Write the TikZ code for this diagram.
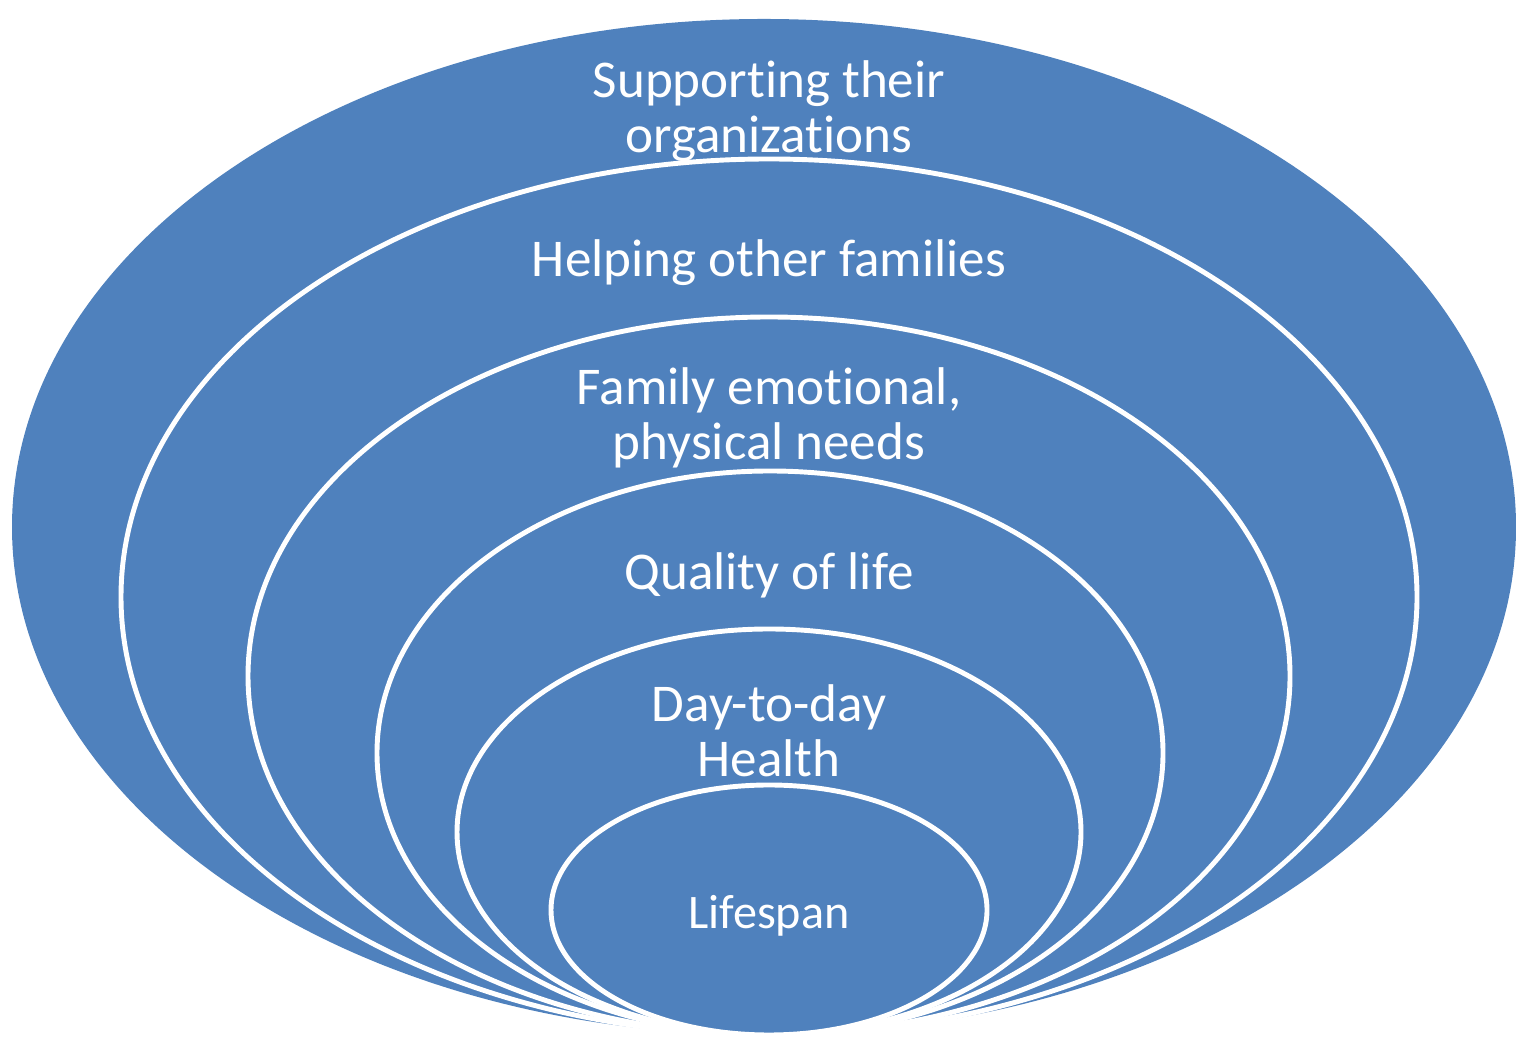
\documentclass[tikz,border=0pt]{standalone}
\usepackage{fontspec}
\setmainfont{Carlito}[Ligatures=NoCommon]
\definecolor{ringblue}{HTML}{4F81BD}
\tikzset{
  ring/.style={fill=ringblue, draw=white, line width=1.4pt},
  label/.style={text=white, anchor=base, align=center, font=\fontsize{15.1}{15.9}\selectfont},
}
\begin{document}
\begin{tikzpicture}[x=0.01cm, y=0.01cm]
			\useasboundingbox (0,0) rectangle (1516,1040);
			\fill[ringblue] (764,513) ellipse [x radius=752, y radius=508];
			
			\draw[ring] (769,443) ellipse [x radius=648, y radius=438];
			\draw[ring] (769,364) ellipse [x radius=521, y radius=359];
			\draw[ring] (770,287) ellipse [x radius=393, y radius=282];
			\draw[ring] (769,208) ellipse [x radius=312, y radius=203];
			\draw[ring] (769,130) ellipse [x radius=218, y radius=125];
			\node[label] (orgs) at (769,887) {Supporting their\\organizations};
			\node[label] (others) at (769,763) {Helping other families};
			\node[label] (needs) at (769,580) {Family emotional,\\physical needs};
			\node[label] (quality) at (769,450) {Quality of life};
			\node[label] (daily) at (769,263) {Day-to-day\\Health};
			\node[label, font=\fontsize{13.7}{14}\selectfont] (life) at (769,111) {Lifespan};
		\end{tikzpicture}
\end{document}
